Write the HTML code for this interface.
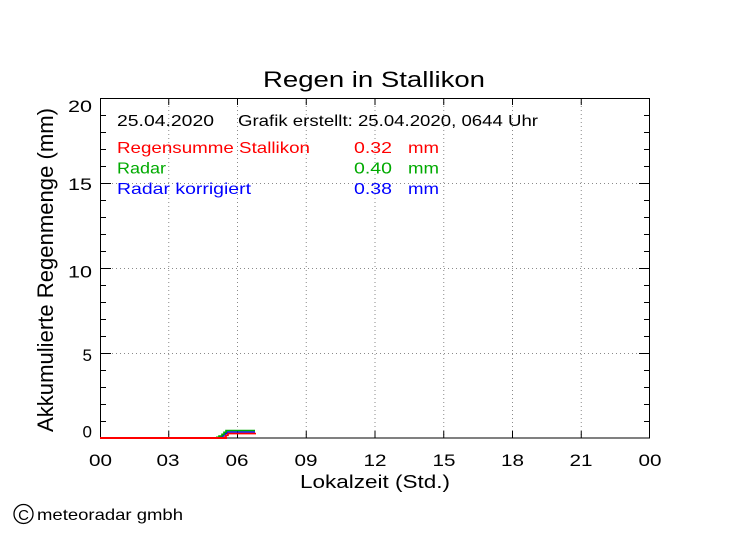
<!DOCTYPE html>
<html>
<head>
<meta charset="utf-8">
<style>
  html,body{margin:0;padding:0;background:#fff;}
  svg{display:block;}
  text{font-family:"Liberation Sans",sans-serif;}
</style>
</head>
<body>
<svg width="749" height="539" viewBox="0 0 749 539" xmlns="http://www.w3.org/2000/svg">
  <rect width="749" height="539" fill="#fff"/>

  <!-- Title -->
  <text x="263" y="87" font-size="22" textLength="222" lengthAdjust="spacingAndGlyphs" fill="#000">Regen in Stallikon</text>

  <!-- Grid (dotted) -->
  <g stroke="#8a8a8a" stroke-width="1" stroke-dasharray="1 3" fill="none">
    <line x1="168.75" y1="98" x2="168.75" y2="438"/>
    <line x1="237.5" y1="98" x2="237.5" y2="438"/>
    <line x1="306.25" y1="98" x2="306.25" y2="438"/>
    <line x1="375" y1="98" x2="375" y2="438"/>
    <line x1="443.75" y1="98" x2="443.75" y2="438"/>
    <line x1="512.5" y1="98" x2="512.5" y2="438"/>
    <line x1="581.25" y1="98" x2="581.25" y2="438"/>
    <line x1="100" y1="183.5" x2="650" y2="183.5"/>
    <line x1="100" y1="268.5" x2="650" y2="268.5"/>
    <line x1="100" y1="353.5" x2="650" y2="353.5"/>
  </g>

  <!-- Axes box -->
  <rect x="100.5" y="98.5" width="549" height="339.5" fill="none" stroke="#000" stroke-width="1"/>

  <!-- Ticks -->
  <g stroke="#000" stroke-width="1">
    <path d="M100 115.5h6M100 132.5h6M100 149.5h6M100 166.5h6
             M100 200.5h6M100 217.5h6M100 234.5h6M100 251.5h6
             M100 285.5h6M100 302.5h6M100 319.5h6M100 336.5h6
             M100 370.5h6M100 387.5h6M100 404.5h6M100 421.5h6"/>
    <path d="M100 183.5h11M100 268.5h11M100 353.5h11"/>
    <path d="M650 115.5h-6M650 132.5h-6M650 149.5h-6M650 166.5h-6
             M650 200.5h-6M650 217.5h-6M650 234.5h-6M650 251.5h-6
             M650 285.5h-6M650 302.5h-6M650 319.5h-6M650 336.5h-6
             M650 370.5h-6M650 387.5h-6M650 404.5h-6M650 421.5h-6"/>
    <path d="M650 183.5h-11M650 268.5h-11M650 353.5h-11"/>
    <path d="M168.75 438v-7M237.5 438v-7M306.25 438v-7M375 438v-7M443.75 438v-7M512.5 438v-7M581.25 438v-7
             M168.75 98v7M237.5 98v7M306.25 98v7M375 98v7M443.75 98v7M512.5 98v7M581.25 98v7"/>
  </g>

  <!-- Data -->
  <g fill="none" stroke-width="1.6">
    <polyline stroke="#0000ff" points="217,437.5 220,437.5 220,436.5 223,436.5 223,435 225,435 225,433.5 227,433.5 227,432 255,432"/>
    <polyline stroke="#00aa00" points="216,437.3 219,437.3 219,436 222,436 222,434.3 224,434.3 224,432.3 226,432.3 226,430.5 255,430.5"/>
    <polyline stroke="#ff0000" points="224,437 226,437 226,435.3 228,435.3 228,433.6 256,433.6"/>
    <line x1="100" y1="438" x2="227" y2="438" stroke="#ff0000" stroke-width="2"/>
  </g>

  <!-- Legend / info text -->
  <text x="117" y="126" font-size="16" textLength="97" lengthAdjust="spacingAndGlyphs" fill="#000">25.04.2020</text>
  <text x="238" y="126" font-size="16" textLength="300" lengthAdjust="spacingAndGlyphs" fill="#000">Grafik erstellt: 25.04.2020, 0644 Uhr</text>

  <text x="117" y="153" font-size="16" textLength="193" lengthAdjust="spacingAndGlyphs" fill="#ff0000">Regensumme Stallikon</text>
  <text x="354" y="153" font-size="16" textLength="38" lengthAdjust="spacingAndGlyphs" fill="#ff0000">0.32</text>
  <text x="408" y="153" font-size="16" textLength="31" lengthAdjust="spacingAndGlyphs" fill="#ff0000">mm</text>

  <text x="117" y="173.5" font-size="16" textLength="49" lengthAdjust="spacingAndGlyphs" fill="#00aa00">Radar</text>
  <text x="354" y="173.5" font-size="16" textLength="38" lengthAdjust="spacingAndGlyphs" fill="#00aa00">0.40</text>
  <text x="408" y="173.5" font-size="16" textLength="31" lengthAdjust="spacingAndGlyphs" fill="#00aa00">mm</text>

  <text x="117" y="194" font-size="16" textLength="134" lengthAdjust="spacingAndGlyphs" fill="#0000ff">Radar korrigiert</text>
  <text x="354" y="194" font-size="16" textLength="38" lengthAdjust="spacingAndGlyphs" fill="#0000ff">0.38</text>
  <text x="408" y="194" font-size="16" textLength="31" lengthAdjust="spacingAndGlyphs" fill="#0000ff">mm</text>

  <!-- Y tick labels -->
  <g font-size="17" fill="#000" text-anchor="end">
    <text x="92" y="112" textLength="24" lengthAdjust="spacingAndGlyphs">20</text>
    <text x="92" y="190" textLength="24" lengthAdjust="spacingAndGlyphs">15</text>
    <text x="92" y="277.5" textLength="24" lengthAdjust="spacingAndGlyphs">10</text>
    <text x="92" y="361">5</text>
    <text x="92" y="437.5">0</text>
  </g>

  <!-- X tick labels -->
  <g font-size="17" fill="#000" text-anchor="middle">
    <text x="100.5" y="466" textLength="23" lengthAdjust="spacingAndGlyphs">00</text>
    <text x="168" y="466" textLength="23" lengthAdjust="spacingAndGlyphs">03</text>
    <text x="237" y="466" textLength="23" lengthAdjust="spacingAndGlyphs">06</text>
    <text x="306" y="466" textLength="23" lengthAdjust="spacingAndGlyphs">09</text>
    <text x="375" y="466" textLength="23" lengthAdjust="spacingAndGlyphs">12</text>
    <text x="444" y="466" textLength="23" lengthAdjust="spacingAndGlyphs">15</text>
    <text x="512.5" y="466" textLength="23" lengthAdjust="spacingAndGlyphs">18</text>
    <text x="581" y="466" textLength="23" lengthAdjust="spacingAndGlyphs">21</text>
    <text x="650" y="466" textLength="23" lengthAdjust="spacingAndGlyphs">00</text>
  </g>

  <!-- Axis titles -->
  <text x="300" y="488" font-size="18" textLength="150" lengthAdjust="spacingAndGlyphs" fill="#000">Lokalzeit (Std.)</text>
  <text transform="translate(53,432) rotate(-90)" x="0" y="0" font-size="22" textLength="324" lengthAdjust="spacingAndGlyphs" fill="#000">Akkumulierte Regenmenge (mm)</text>

  <!-- Copyright -->
  <circle cx="23.5" cy="514" r="9.5" fill="none" stroke="#000" stroke-width="1.3"/>
  <text x="23.5" y="520" font-size="15" text-anchor="middle" fill="#000">C</text>
  <text x="37" y="520" font-size="16" textLength="146" lengthAdjust="spacingAndGlyphs" fill="#000">meteoradar gmbh</text>
</svg>
</body>
</html>
